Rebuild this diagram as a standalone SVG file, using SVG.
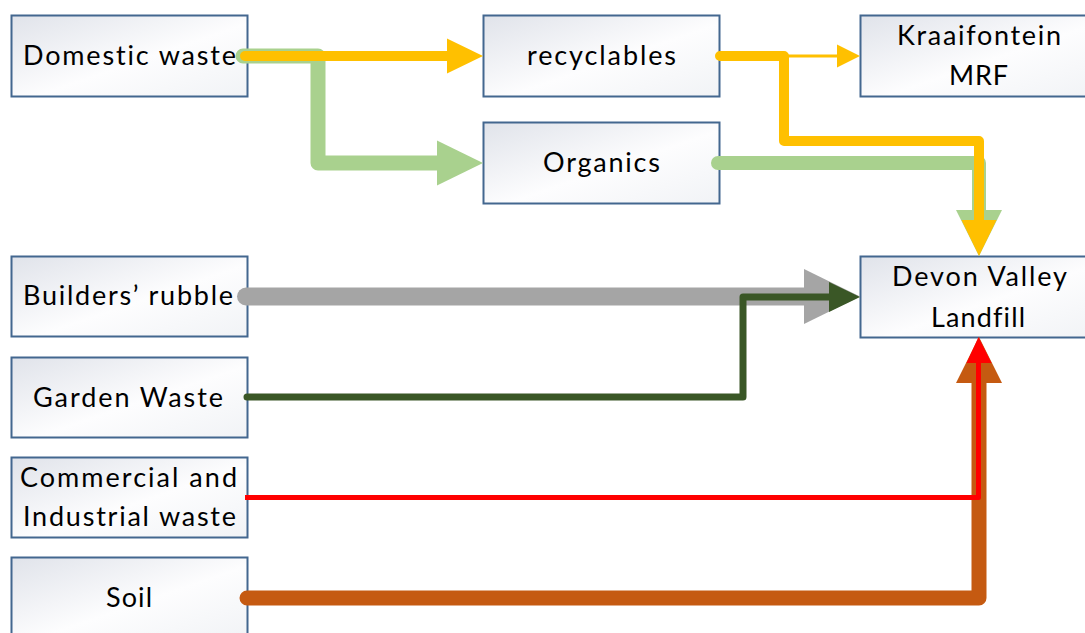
<svg xmlns="http://www.w3.org/2000/svg" width="1085" height="633" viewBox="0 0 1085 633">
  <style>
    .box { fill: url(#boxFill); stroke: #43678f; stroke-width: 2; }
    .lbl { font-family: Lato, "Liberation Sans", sans-serif; font-size: 27px; fill: #000; text-anchor: middle; font-variant-ligatures: none; font-feature-settings: "liga" 0, "dlig" 0; }
    .flow { fill: none; stroke-linejoin: round; }
    .cap { stroke-linecap: round; }
  </style>
  <defs>
    <linearGradient id="boxFill" x1="0" y1="0" x2="1" y2="1">
      <stop offset="0" stop-color="#e0e3ea"/>
      <stop offset="0.55" stop-color="#fdfdfe"/>
      <stop offset="1" stop-color="#f1f3f6"/>
    </linearGradient>
  </defs>

  <rect width="1085" height="633" fill="#ffffff"/>

  <!-- boxes -->
  <g id="domestic">
    <rect class="box" x="11.5" y="15.5" width="236" height="81"/>
    <text class="lbl" x="129.5" y="65" textLength="213" lengthAdjust="spacing">Domestic waste</text>
  </g>
  <g id="recyclables">
    <rect class="box" x="483.5" y="15.5" width="236" height="81"/>
    <text class="lbl" x="601.5" y="65" textLength="149" lengthAdjust="spacing">recyclables</text>
  </g>
  <g id="kraaifontein">
    <rect class="box" x="860.5" y="15.5" width="236" height="81"/>
    <text class="lbl" x="979" y="45" textLength="164" lengthAdjust="spacing">Kraaifontein</text>
    <text class="lbl" x="978.5" y="85" textLength="59" lengthAdjust="spacing">MRF</text>
  </g>
  <g id="organics">
    <rect class="box" x="483.5" y="122.5" width="236" height="81"/>
    <text class="lbl" x="601.5" y="172" textLength="117" lengthAdjust="spacing">Organics</text>
  </g>
  <g id="devon">
    <rect class="box" x="860.5" y="256.5" width="236" height="81"/>
    <text class="lbl" x="979.5" y="286" textLength="175" lengthAdjust="spacing">Devon Valley</text>
    <text class="lbl" x="978" y="327" textLength="94" lengthAdjust="spacing">Landfill</text>
  </g>
  <g id="rubble">
    <rect class="box" x="11.5" y="256.5" width="236" height="80"/>
    <text class="lbl" x="128" y="305" textLength="210" lengthAdjust="spacing">Builders’ rubble</text>
  </g>
  <g id="garden">
    <rect class="box" x="11.5" y="357.5" width="236" height="80"/>
    <text class="lbl" x="128" y="407" textLength="190" lengthAdjust="spacing">Garden Waste</text>
  </g>
  <g id="commercial">
    <rect class="box" x="11.5" y="457.5" width="236" height="80"/>
    <text class="lbl" x="128.5" y="487" textLength="217" lengthAdjust="spacing">Commercial and</text>
    <text class="lbl" x="129.5" y="526" textLength="213" lengthAdjust="spacing">Industrial waste</text>
  </g>
  <g id="soil">
    <rect class="box" x="11.5" y="557.5" width="236" height="82"/>
    <text class="lbl" x="129" y="607" textLength="46" lengthAdjust="spacing">Soil</text>
  </g>

  <!-- connectors -->
  <g id="connectors">
    <!-- domestic waste to organics -->
    <path class="flow cap" d="M243 56 H318 V163 H438" stroke="#a9d18e" stroke-width="15"/>
    <polygon points="437,140.5 483,163 437,185.5" fill="#a9d18e"/>
    <!-- domestic waste to recyclables -->
    <path class="flow cap" d="M245 56 H448" stroke="#ffc000" stroke-width="10"/>
    <polygon points="447,38.5 483,56 447,73.5" fill="#ffc000"/>

    <!-- organics to landfill -->
    <path class="flow cap" d="M718 163 H979 V211" stroke="#a9d18e" stroke-width="14"/>
    <polygon points="956,210 979,256 1002,210" fill="#a9d18e"/>
    <!-- recyclables to MRF -->
    <path class="flow" d="M716 56 H838" stroke="#ffc000" stroke-width="3"/>
    <polygon points="837,44.5 860,56 837,67.5" fill="#ffc000"/>
    <!-- recyclables to landfill -->
    <path class="flow cap" d="M720 56 H784 V141 H979 V221" stroke="#ffc000" stroke-width="10"/>
    <polygon points="961.5,220 979,256 996.5,220" fill="#ffc000"/>

    <!-- builders' rubble to landfill -->
    <path class="flow cap" d="M246 296.5 H805" stroke="#a5a5a5" stroke-width="18"/>
    <polygon points="804,269 860,296.5 804,324" fill="#a5a5a5"/>
    <!-- garden waste to landfill -->
    <path class="flow cap" d="M247 397 H743 V297 H830" stroke="#3a5726" stroke-width="7"/>
    <polygon points="829,282 860,297 829,312" fill="#3a5726"/>

    <!-- soil to landfill -->
    <path class="flow cap" d="M247 598 H979 V382" stroke="#c55a11" stroke-width="15"/>
    <polygon points="956,383 979,337 1002,383" fill="#c55a11"/>
    <!-- commercial and industrial waste to landfill -->
    <path class="flow" d="M245 497.5 H978.5 V362" stroke="#ff0000" stroke-width="5"/>
    <polygon points="966.5,363 978.5,337 991.5,363" fill="#ff0000"/>
  </g>
</svg>
